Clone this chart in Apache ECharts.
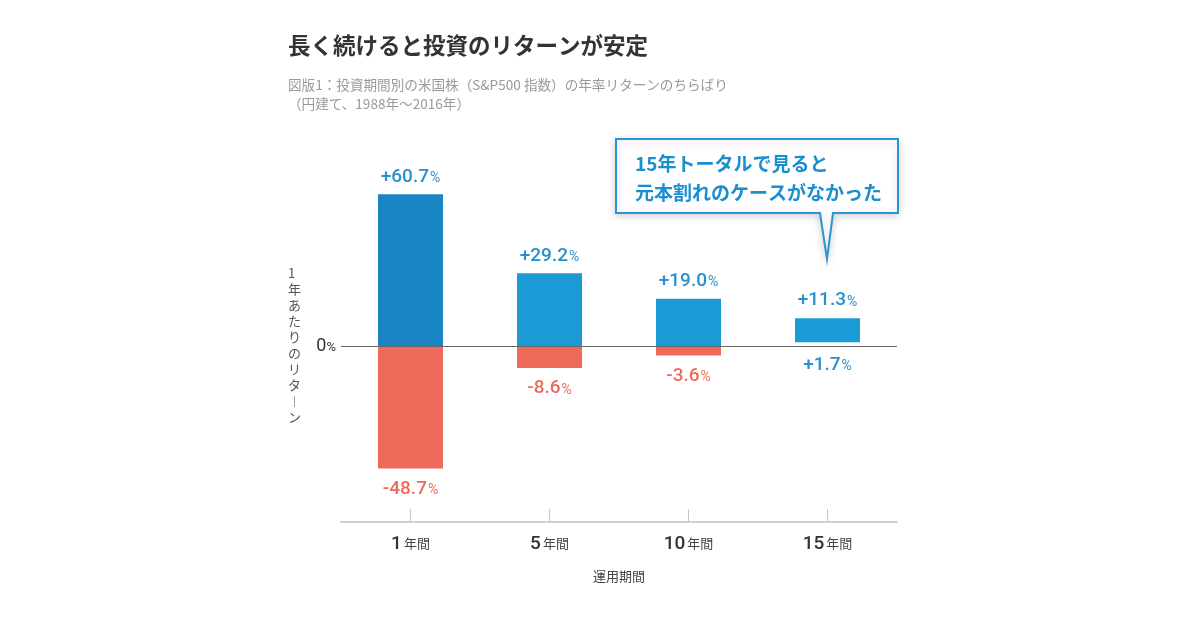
<!DOCTYPE html>
<html><head><meta charset="utf-8">
<script src="https://cdn.jsdelivr.net/npm/echarts@6/dist/echarts.min.js"></script>
<style>html,body{margin:0;padding:0;background:#fff}#c{width:1200px;height:630px}</style>
</head><body><div id="c"></div>
<script>
const categories = ['1', '5', '10', '15'];
const maxReturn = [60.7, 29.2, 19.0, 11.3];
const minReturn = [-48.7, -8.6, -3.6, 1.7];
const yTicks = [-70, 0, 70];

const FONT = '"Noto Sans CJK JP", "Noto Sans", sans-serif';
const NUM = 'Roboto, "Liberation Sans", sans-serif';
const BLUE = '#1b9ad6', BLUE_DARK = '#1a85c4', RED = '#ee6b5b', LBLUE = '#2a8fcf';

// build stacked pieces from the read values
const baseData = minReturn.map(v => v > 0 ? v : 0);
const upData = maxReturn.map((v, i) => v - baseData[i]);
const downData = minReturn.map(v => v < 0 ? v : '-');

function valRich(color) {
  return {
    n: { fontSize: 19, color: color, fontFamily: NUM, fontWeight: 500, verticalAlign: 'bottom' },
    p: { fontSize: 14, color: color, fontFamily: NUM, fontWeight: 400, verticalAlign: 'bottom', padding: [0, 0, 1, 1] }
  };
}

const chart = echarts.init(document.getElementById('c'));
chart.setOption({
  animation: false,
  textStyle: { fontFamily: FONT },
  grid: { left: 341, right: 303, top: 171, bottom: 108 },
  xAxis: {
    type: 'category', data: categories,
    axisLine: { onZero: false, lineStyle: { color: '#d0d0d0', width: 2 } },
    axisTick: { show: true, interval: 0, alignWithLabel: true, inside: true, length: 13, lineStyle: { color: '#c8c8c8', width: 1 } },
    axisLabel: {
      margin: 13,
      formatter: v => '{n|' + v + '}{u|年間}',
      rich: {
        n: { fontSize: 19, color: '#333', fontFamily: NUM, fontWeight: 500, verticalAlign: 'bottom' },
        u: { fontSize: 13, color: '#444', fontFamily: FONT, verticalAlign: 'bottom', padding: [0, 0, 4, 2] }
      }
    },
    name: '運用期間', nameLocation: 'middle', nameGap: 48,
    nameTextStyle: { fontSize: 13, color: '#444', fontFamily: FONT }
  },
  yAxis: {
    type: 'value', min: yTicks[0], max: yTicks[2], interval: 70,
    axisLine: { show: false }, axisTick: { show: false }, splitLine: { show: false },
    axisLabel: {
      margin: 5,
      formatter: v => v === 0 ? '{n|0}{p|%}' : '',
      rich: {
        n: { fontSize: 18, color: '#333', fontFamily: NUM, verticalAlign: 'bottom' },
        p: { fontSize: 13, color: '#333', fontFamily: NUM, verticalAlign: 'bottom', padding: [0, 0, 1, 0] }
      }
    }
  },
  series: [
    {
      type: 'bar', stack: 'r', barWidth: 65, data: baseData,
      itemStyle: { color: 'rgba(0,0,0,0)' },
      label: {
        show: true, position: 'bottom', distance: 9,
        formatter: p => minReturn[p.dataIndex] > 0 ? '{n|+' + minReturn[p.dataIndex].toFixed(1) + '}{p|%}' : '',
        rich: valRich(LBLUE)
      }
    },
    {
      type: 'bar', stack: 'r', barWidth: 65,
      data: upData.map((v, i) => ({ value: v, itemStyle: { color: i === 0 ? BLUE_DARK : BLUE } })),
      label: {
        show: true, position: 'top', distance: 8,
        formatter: p => '{n|+' + maxReturn[p.dataIndex].toFixed(1) + '}{p|%}',
        rich: valRich(LBLUE)
      },
      markLine: {
        silent: true, symbol: 'none', label: { show: false },
        lineStyle: { color: '#666', width: 1, type: 'solid' },
        data: [{ yAxis: 0 }]
      }
    },
    {
      type: 'bar', stack: 'r', barWidth: 65, data: downData,
      itemStyle: { color: RED },
      label: {
        show: true, position: 'bottom', distance: 11,
        formatter: p => '{n|' + p.value.toFixed(1) + '}{p|%}',
        rich: valRich(RED)
      }
    }
  ],
  graphic: [
    { type: 'text', left: 288, top: 34, style: { text: '長く続けると投資のリターンが安定', font: 'bold 22.5px ' + FONT, fill: '#333' } },
    { type: 'text', left: 288, top: 75, style: { text: '図版1：投資期間別の米国株（S&P500 指数）の年率リターンのちらばり\n（円建て、1988年～2016年）', font: '13.6px ' + FONT, fill: '#9a9a9a', lineHeight: 19 } },
    { type: 'text', left: 288, top: 265, style: { text: '1\n年\nあ\nた\nり\nの\nリ\nタ\n︱\nン', font: '13px ' + FONT, fill: '#555', lineHeight: 16, align: 'center', width: 14 } },
    {
      type: 'polygon',
      shape: { points: [[616, 139], [898, 139], [898, 213], [833, 213], [827, 259], [820, 213], [616, 213]] },
      style: { fill: '#fff', stroke: '#2a95d0', lineWidth: 2, shadowBlur: 8, shadowColor: 'rgba(0,0,0,0.18)', shadowOffsetY: 2 }
    },
    { type: 'text', left: 635, top: 149, style: { text: '15年トータルで見ると\n元本割れのケースがなかった', font: 'bold 19px ' + FONT, fill: '#1a8fd0', lineHeight: 29 } }
  ]
});
</script>
</body></html>
